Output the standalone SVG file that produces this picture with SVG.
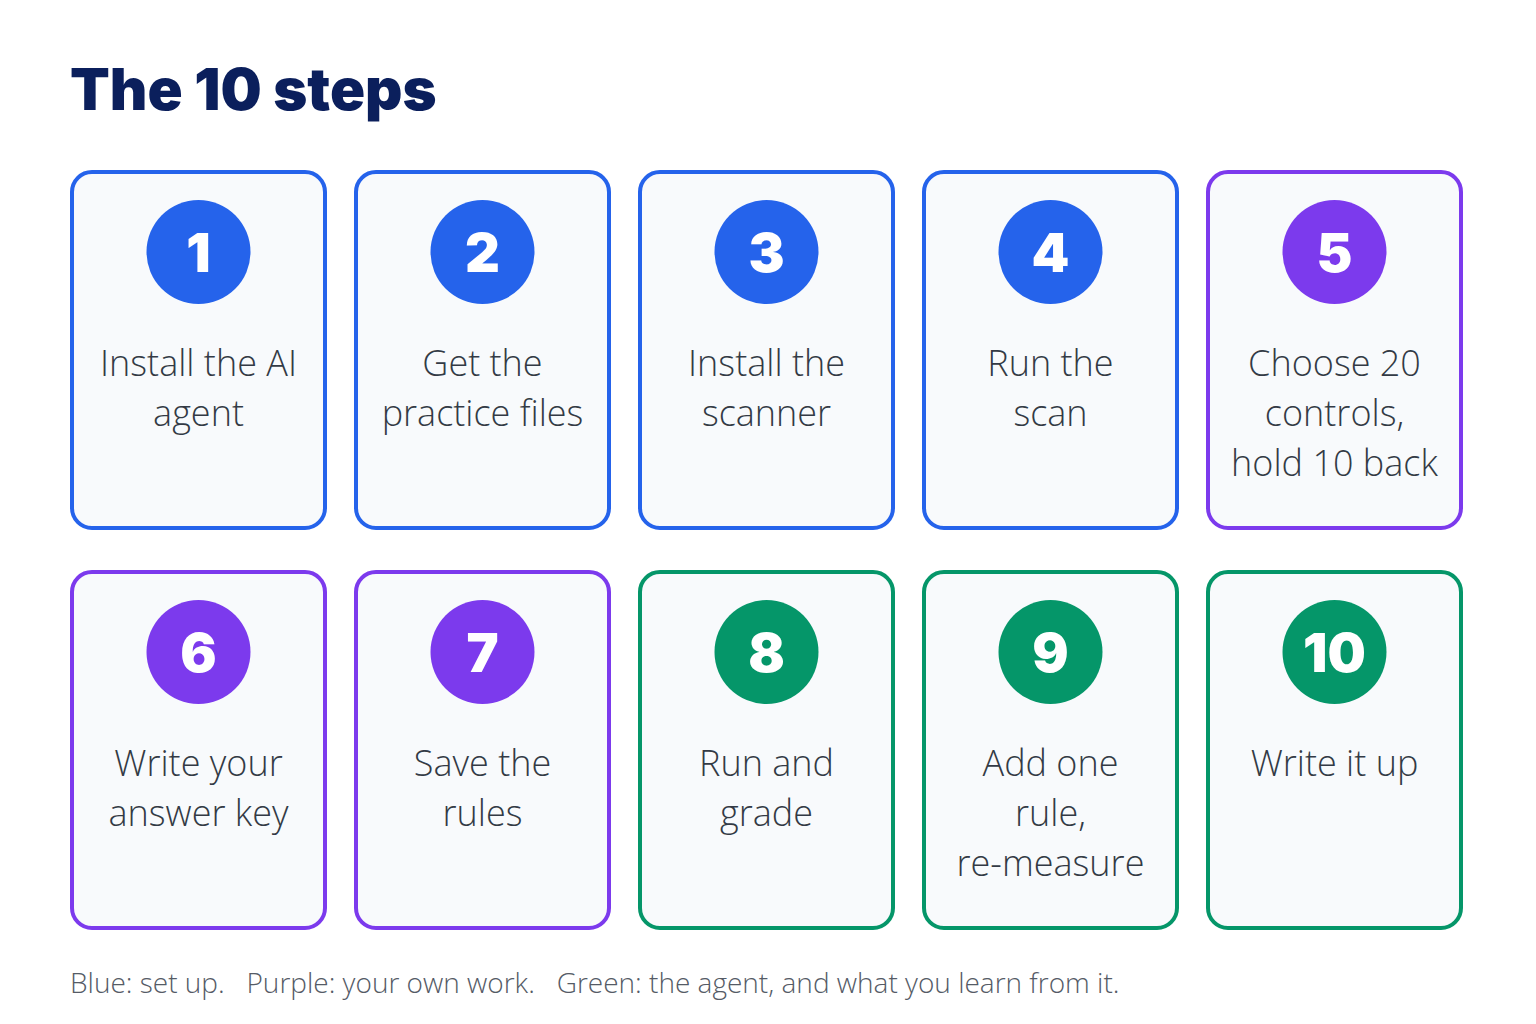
<svg xmlns="http://www.w3.org/2000/svg" width="1536" height="1024" viewBox="0 0 1536 1024">
<style>
.card{fill:#f8fafc;stroke-width:4}
.b .card{stroke:#2563eb}.b circle{fill:#2563eb}
.p .card{stroke:#7c3aed}.p circle{fill:#7c3aed}
.g .card{stroke:#059669}.g circle{fill:#059669}
.num{font-family:Inter,"Open Sans",sans-serif;font-weight:900;font-size:54px;fill:#fff;text-anchor:middle}
.lbl{font-family:"Open Sans","Noto Sans",sans-serif;font-weight:300;font-size:36px;fill:#333a45;text-anchor:middle}
</style>
<rect width="1536" height="1024" fill="#fff"/>
<text x="70" y="110" font-family="Inter,'Open Sans',sans-serif" font-weight="900" font-size="58" fill="#0b1f5c">The 10 steps</text>
<g id="n1" class="b"><rect class="card" x="72" y="172" width="253" height="356" rx="20"/><circle cx="198.5" cy="252" r="52"/><text class="num" x="198.5" y="272">1</text><text class="lbl" x="198.5" y="376">Install the AI</text><text class="lbl" x="198.5" y="426">agent</text></g>
<g id="n2" class="b"><rect class="card" x="356" y="172" width="253" height="356" rx="20"/><circle cx="482.5" cy="252" r="52"/><text class="num" x="482.5" y="272">2</text><text class="lbl" x="482.5" y="376">Get the</text><text class="lbl" x="482.5" y="426">practice files</text></g>
<g id="n3" class="b"><rect class="card" x="640" y="172" width="253" height="356" rx="20"/><circle cx="766.5" cy="252" r="52"/><text class="num" x="766.5" y="272">3</text><text class="lbl" x="766.5" y="376">Install the</text><text class="lbl" x="766.5" y="426">scanner</text></g>
<g id="n4" class="b"><rect class="card" x="924" y="172" width="253" height="356" rx="20"/><circle cx="1050.5" cy="252" r="52"/><text class="num" x="1050.5" y="272">4</text><text class="lbl" x="1050.5" y="376">Run the</text><text class="lbl" x="1050.5" y="426">scan</text></g>
<g id="n5" class="p"><rect class="card" x="1208" y="172" width="253" height="356" rx="20"/><circle cx="1334.5" cy="252" r="52"/><text class="num" x="1334.5" y="272">5</text><text class="lbl" x="1334.5" y="376">Choose 20</text><text class="lbl" x="1334.5" y="426">controls,</text><text class="lbl" x="1334.5" y="476">hold 10 back</text></g>
<g id="n6" class="p"><rect class="card" x="72" y="572" width="253" height="356" rx="20"/><circle cx="198.5" cy="652" r="52"/><text class="num" x="198.5" y="672">6</text><text class="lbl" x="198.5" y="776">Write your</text><text class="lbl" x="198.5" y="826">answer key</text></g>
<g id="n7" class="p"><rect class="card" x="356" y="572" width="253" height="356" rx="20"/><circle cx="482.5" cy="652" r="52"/><text class="num" x="482.5" y="672">7</text><text class="lbl" x="482.5" y="776">Save the</text><text class="lbl" x="482.5" y="826">rules</text></g>
<g id="n8" class="g"><rect class="card" x="640" y="572" width="253" height="356" rx="20"/><circle cx="766.5" cy="652" r="52"/><text class="num" x="766.5" y="672">8</text><text class="lbl" x="766.5" y="776">Run and</text><text class="lbl" x="766.5" y="826">grade</text></g>
<g id="n9" class="g"><rect class="card" x="924" y="572" width="253" height="356" rx="20"/><circle cx="1050.5" cy="652" r="52"/><text class="num" x="1050.5" y="672">9</text><text class="lbl" x="1050.5" y="776">Add one</text><text class="lbl" x="1050.5" y="826">rule,</text><text class="lbl" x="1050.5" y="876">re-measure</text></g>
<g id="n10" class="g"><rect class="card" x="1208" y="572" width="253" height="356" rx="20"/><circle cx="1334.5" cy="652" r="52"/><text class="num" x="1334.5" y="672">10</text><text class="lbl" x="1334.5" y="776">Write it up</text></g>
<g id="connectors"/>
<text x="70" y="993" font-family="'Open Sans','Noto Sans',sans-serif" font-weight="300" font-size="28" fill="#555b66" xml:space="preserve">Blue: set up.   Purple: your own work.   Green: the agent, and what you learn from it.</text>
</svg>
